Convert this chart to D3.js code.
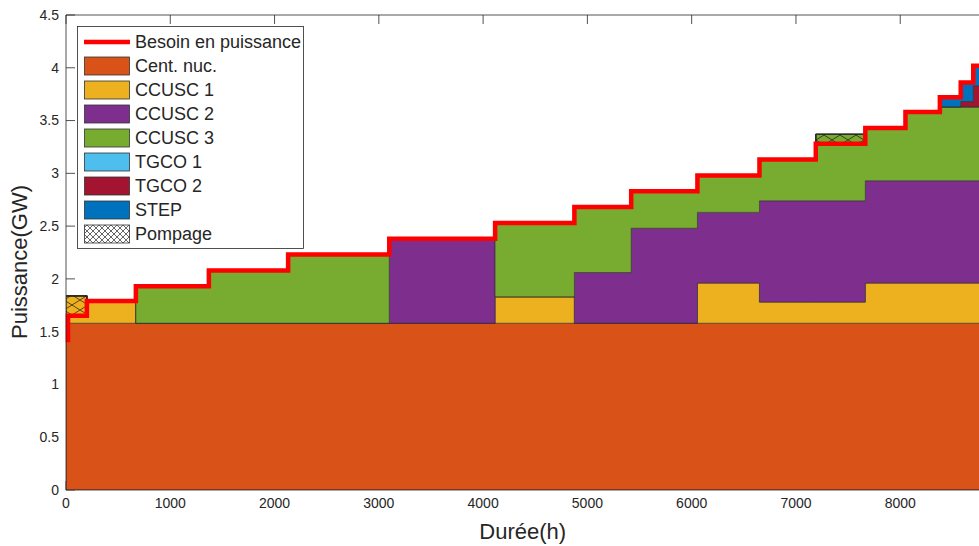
<!DOCTYPE html>
<html><head><meta charset="utf-8">
<script src="https://cdn.jsdelivr.net/npm/d3@7"></script>
<style>body{margin:0;background:#fff}svg{display:block}text{font-family:"Liberation Sans",Arial,Helvetica,sans-serif;fill:#262626}</style>
</head><body><svg id="c" width="979" height="546"></svg>
<script>
// Segment start hours (last value = end of year)
const hours = [0, 200, 670, 1370, 2130, 3100, 4115, 4875, 5420, 6055, 6650, 7190, 7665, 8050, 8380, 8580, 8700, 8760];
const demandStart = 1.40;
const demand = [1.65, 1.79, 1.93, 2.08, 2.23, 2.38, 2.53, 2.68, 2.83, 2.98, 3.13, 3.28, 3.43, 3.58, 3.72, 3.86, 4.02];
const nuc    = [1.58, 1.58, 1.58, 1.58, 1.58, 1.58, 1.58, 1.58, 1.58, 1.58, 1.58, 1.58, 1.58, 1.58, 1.58, 1.58, 1.58];
const ccusc1 = [0.26, 0.21, 0, 0, 0, 0, 0.25, 0, 0, 0.38, 0.20, 0.20, 0.38, 0.38, 0.38, 0.38, 0.38];
const ccusc2 = [0, 0, 0, 0, 0, 0.80, 0, 0.48, 0.90, 0.67, 0.96, 0.96, 0.97, 0.97, 0.97, 0.97, 0.97];
const ccusc3 = [0, 0, 0.35, 0.50, 0.65, 0, 0.70, 0.62, 0.35, 0.35, 0.39, 0.63, 0.50, 0.65, 0.70, 0.70, 0.70];
const tgco1  = [0, 0, 0, 0, 0, 0, 0, 0, 0, 0, 0, 0, 0, 0, 0, 0, 0];
const tgco2  = [0, 0, 0, 0, 0, 0, 0, 0, 0, 0, 0, 0, 0, 0, 0, 0.05, 0.20];
const stepH  = [0, 0, 0, 0, 0, 0, 0, 0, 0, 0, 0, 0, 0, 0, 0.09, 0.18, 0.19];
const pompage= [0.19, 0, 0, 0, 0, 0, 0, 0, 0, 0, 0, 0.09, 0, 0, 0, 0, 0];
const xTicks = [0, 1000, 2000, 3000, 4000, 5000, 6000, 7000, 8000];
const yTicks = [0, 0.5, 1, 1.5, 2, 2.5, 3, 3.5, 4, 4.5];
const seriesNames = ["Cent. nuc.", "CCUSC 1", "CCUSC 2", "CCUSC 3", "TGCO 1", "TGCO 2", "STEP"];
const seriesColors = ["#D95319", "#EDB120", "#7E2F8E", "#77AC30", "#4DBEEE", "#A2142F", "#0072BD"];
const keys = ["nuc", "ccusc1", "ccusc2", "ccusc3", "tgco1", "tgco2", "step"];
const cols = [nuc, ccusc1, ccusc2, ccusc3, tgco1, tgco2, stepH];

const rows = hours.map((h, i) => {
  const j = Math.min(i, demand.length - 1);
  const r = {h: h, demand: demand[j], pomp: pompage[j]};
  keys.forEach((k, ki) => r[k] = cols[ki][j]);
  return r;
});

const svg = d3.select("#c");
const L = 66, T = 15, B = 490, R = 979.5;
const x = d3.scaleLinear().domain([0, 8760]).range([L, R]);
const y = d3.scaleLinear().domain([0, 4.5]).range([B, T]);

const defs = svg.append("defs");
const hp = defs.append("pattern").attr("id", "hatch").attr("patternUnits", "userSpaceOnUse")
  .attr("width", 16).attr("height", 10);
hp.append("path").attr("d", "M0,0L16,10M0,10L16,0").attr("stroke", "#111").attr("stroke-width", 0.7).attr("fill", "none");
const hp2 = defs.append("pattern").attr("id", "hatch2").attr("patternUnits", "userSpaceOnUse")
  .attr("width", 6).attr("height", 6);
hp2.append("path").attr("d", "M0,0L6,6M0,6L6,0").attr("stroke", "#222").attr("stroke-width", 0.7).attr("fill", "none");
defs.append("clipPath").attr("id", "clip").append("rect").attr("x", L).attr("y", 0).attr("width", R - L + 10).attr("height", B);

// ticks (under data)
const tk = svg.append("g").attr("stroke", "#262626").attr("stroke-width", 0.8);
yTicks.forEach(v => tk.append("line").attr("x1", L).attr("x2", L + 9).attr("y1", y(v)).attr("y2", y(v)));
xTicks.forEach(v => {
  tk.append("line").attr("x1", x(v)).attr("x2", x(v)).attr("y1", B).attr("y2", B - 9);
  tk.append("line").attr("x1", x(v)).attr("x2", x(v)).attr("y1", T).attr("y2", T + 9);
});

const stack = d3.stack().keys(keys)(rows);
const area = d3.area().curve(d3.curveStepAfter)
  .x(d => x(d.data.h)).y0(d => y(d[0])).y1(d => y(d[1]));
const g = svg.append("g").attr("clip-path", "url(#clip)");
g.selectAll("path.s").data(stack).join("path").attr("class", "s")
  .attr("d", area).attr("fill", (d, i) => seriesColors[i])
  .attr("stroke", "#2a2a2a").attr("stroke-width", 0.7).attr("stroke-opacity", 0.8);

// pompage hatch
rows.slice(0, -1).forEach((r, i) => {
  if (r.pomp > 0) {
    g.append("rect").attr("x", x(r.h)).attr("width", x(rows[i + 1].h) - x(r.h))
      .attr("y", y(r.demand + r.pomp)).attr("height", y(r.demand) - y(r.demand + r.pomp))
      .attr("fill", "url(#hatch)").attr("stroke", "#333").attr("stroke-width", 0.7);
  }
});

// demand line
const linePts = [{h: 0, v: demandStart}].concat(rows.map(r => ({h: r.h, v: r.demand})));
const line = d3.line().curve(d3.curveStepAfter).x(d => x(d.h) + (d.h === 0 ? 2 : 0)).y(d => y(d.v));
svg.append("path").attr("d", line(linePts)).attr("fill", "none").attr("stroke", "#FF0000").attr("stroke-width", 4.5);

// box
svg.append("path").attr("d", `M${L},${T}V${B}H${R}M${L},${T}H${R}`).attr("fill", "none").attr("stroke", "#262626").attr("stroke-width", 0.8);

// tick labels
svg.selectAll("text.yl").data(yTicks).join("text").attr("class", "yl")
  .attr("x", L - 7).attr("y", d => y(d)).attr("dy", "0.35em").attr("text-anchor", "end")
  .attr("font-size", 14).text(d => d);
svg.selectAll("text.xl").data(xTicks).join("text").attr("class", "xl")
  .attr("x", d => x(d)).attr("y", B + 18).attr("text-anchor", "middle")
  .attr("font-size", 14).text(d => d);
svg.append("text").attr("x", (L + R) / 2).attr("y", 539).attr("text-anchor", "middle").attr("font-size", 22).text("Durée(h)");
svg.append("text").attr("transform", `translate(27,262) rotate(-90)`).attr("text-anchor", "middle").attr("font-size", 22).text("Puissance(GW)");

// legend
const lg = svg.append("g");
lg.append("rect").attr("x", 77.5).attr("y", 26.5).attr("width", 226).attr("height", 222).attr("fill", "#fff").attr("stroke", "#262626").attr("stroke-width", 0.8);
const ly0 = 42, ldy = 24;
lg.append("line").attr("x1", 84).attr("x2", 130).attr("y1", ly0).attr("y2", ly0).attr("stroke", "#FF0000").attr("stroke-width", 4.5);
lg.append("text").attr("x", 135).attr("y", ly0).attr("dy", "0.35em").attr("font-size", 18).text("Besoin en puissance");
seriesNames.forEach((n, i) => {
  const cy = ly0 + ldy * (i + 1);
  lg.append("rect").attr("x", 84.5).attr("y", cy - 9).attr("width", 45).attr("height", 18).attr("fill", seriesColors[i]).attr("stroke", "#333").attr("stroke-width", 0.8);
  lg.append("text").attr("x", 135).attr("y", cy).attr("dy", "0.35em").attr("font-size", 18).text(n);
});
const cyp = ly0 + ldy * 8;
lg.append("rect").attr("x", 84.5).attr("y", cyp - 9).attr("width", 45).attr("height", 18).attr("fill", "url(#hatch2)").attr("stroke", "#333").attr("stroke-width", 0.8);
lg.append("text").attr("x", 135).attr("y", cyp).attr("dy", "0.35em").attr("font-size", 18).text("Pompage");
</script></body></html>
